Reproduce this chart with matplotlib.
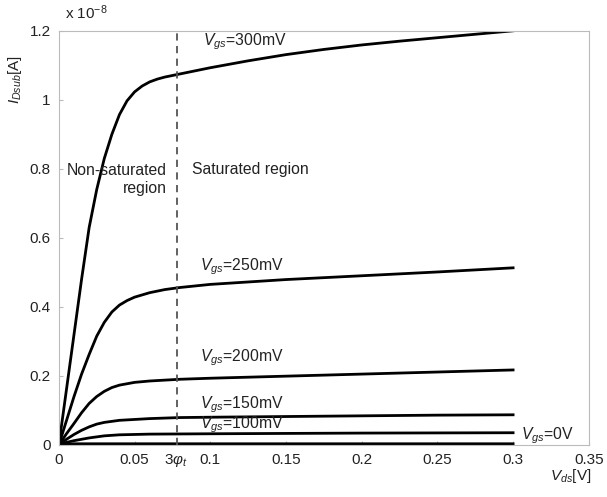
import matplotlib
matplotlib.use("Agg")
import matplotlib.pyplot as plt

plt.rcParams['font.family'] = ['Liberation Sans', 'DejaVu Sans']
plt.rcParams['mathtext.fontset'] = 'custom'
plt.rcParams['mathtext.rm'] = 'Liberation Sans'
plt.rcParams['mathtext.it'] = 'Liberation Sans:italic'

# Data (current in units of 1e-8 A)
vds_300 = [0, 0.005, 0.01, 0.015, 0.02, 0.025, 0.03, 0.035, 0.04, 0.045, 0.05, 0.055, 0.06,
           0.065, 0.07, 0.08, 0.09, 0.1, 0.125, 0.15, 0.175, 0.2, 0.225, 0.25, 0.275, 0.3]
i_300 = [0, 0.16, 0.32, 0.48, 0.63, 0.74, 0.83, 0.90, 0.957, 0.997, 1.023, 1.04, 1.052,
         1.06, 1.066, 1.075, 1.084, 1.093, 1.113, 1.131, 1.146, 1.159, 1.17, 1.18, 1.19, 1.2]

vds_250 = [0, 0.005, 0.01, 0.015, 0.02, 0.025, 0.03, 0.035, 0.04, 0.045, 0.05, 0.06, 0.07, 0.08,
           0.1, 0.15, 0.2, 0.25, 0.3]
i_250 = [0, 0.07, 0.14, 0.205, 0.262, 0.315, 0.355, 0.385, 0.405, 0.418, 0.428, 0.441, 0.45, 0.456,
         0.465, 0.479, 0.49, 0.501, 0.513]

vds_200 = [0, 0.005, 0.01, 0.015, 0.02, 0.025, 0.03, 0.035, 0.04, 0.05, 0.06, 0.08, 0.1, 0.15,
           0.2, 0.25, 0.3]
i_200 = [0, 0.032, 0.062, 0.093, 0.12, 0.14, 0.155, 0.166, 0.173, 0.181, 0.185, 0.19, 0.193, 0.199,
         0.205, 0.211, 0.217]

vds_150 = [0, 0.005, 0.01, 0.015, 0.02, 0.025, 0.03, 0.04, 0.06, 0.08, 0.1, 0.15, 0.2, 0.25, 0.3]
i_150 = [0, 0.016, 0.03, 0.042, 0.052, 0.06, 0.065, 0.071, 0.076, 0.079, 0.08, 0.082, 0.084, 0.086, 0.087]

vds_100 = [0, 0.005, 0.01, 0.02, 0.03, 0.04, 0.06, 0.1, 0.2, 0.3]
i_100 = [0, 0.007, 0.012, 0.02, 0.026, 0.029, 0.031, 0.032, 0.034, 0.035]

vds_0 = [0, 0.005, 0.01, 0.02, 0.3]
i_0 = [0, 0.002, 0.003, 0.003, 0.003]

three_phi_t = 0.078
x_ticks = [0, 0.05, 0.1, 0.15, 0.2, 0.25, 0.3, 0.35]
x_tick_labels = ['0', '0.05', '0.1', '0.15', '0.2', '0.25', '0.3', '0.35']
y_ticks = [0, 0.2, 0.4, 0.6, 0.8, 1.0, 1.2]
y_tick_labels = ['0', '0.2', '0.4', '0.6', '0.8', '1', '1.2']

fig = plt.figure(figsize=(6.07, 4.97), dpi=100)
ax = fig.add_axes([0.097, 0.105, 0.873, 0.833])

for xs, ys in [(vds_300, i_300), (vds_250, i_250), (vds_200, i_200),
               (vds_150, i_150), (vds_100, i_100), (vds_0, i_0)]:
    ax.plot(xs, ys, color='black', lw=2.0, solid_joinstyle='round')

ax.axvline(three_phi_t, color='#555555', lw=1.3, ls=(0, (4, 3)))

ax.set_xlim(0, 0.35)
ax.set_ylim(0, 1.2)
ax.set_xticks(x_ticks)
ax.set_xticklabels(x_tick_labels)
ax.set_yticks(y_ticks)
ax.set_yticklabels(y_tick_labels)
ax.tick_params(direction='in', length=3, color='#bbbbbb', labelsize=11, labelcolor='#222222', pad=6)
for s in ax.spines.values():
    s.set_color('#bbbbbb')

txtc = '#222222'
fs = 11.3
ax.text(0.0955, 1.168, r'$V_{gs}$=300mV', fontsize=fs, color=txtc, va='center', ha='left')
ax.text(0.093, 0.516, r'$V_{gs}$=250mV', fontsize=fs, color=txtc, va='center', ha='left')
ax.text(0.093, 0.252, r'$V_{gs}$=200mV', fontsize=fs, color=txtc, va='center', ha='left')
ax.text(0.093, 0.116, r'$V_{gs}$=150mV', fontsize=fs, color=txtc, va='center', ha='left')
ax.text(0.093, 0.059, r'$V_{gs}$=100mV', fontsize=fs, color=txtc, va='center', ha='left')
ax.text(0.305, 0.026, r'$V_{gs}$=0V', fontsize=fs, color=txtc, va='center', ha='left')
ax.text(0.0715, 0.77, 'Non-saturated\nregion', fontsize=fs, color=txtc, va='center', ha='right',
        multialignment='right', linespacing=1.25)
ax.text(0.088, 0.797, 'Saturated region', fontsize=fs, color=txtc, va='center', ha='left')

ax.text(three_phi_t - 0.001, -0.02, r'3$\varphi_t$', fontsize=11, color=txtc, va='top', ha='center',
        transform=ax.transData)

fig.text(0.94, 0.025, r'$V_{ds}$[V]', fontsize=11, color=txtc, ha='center', va='bottom')
fig.text(0.025, 0.84, r'$I_{Dsub}$[A]', fontsize=11, color=txtc, ha='center', va='center', rotation=90)
fig.text(0.107, 0.955, r'x 10$^{-8}$', fontsize=11, color=txtc, ha='left', va='bottom')

fig.savefig('out.png', dpi=100)
